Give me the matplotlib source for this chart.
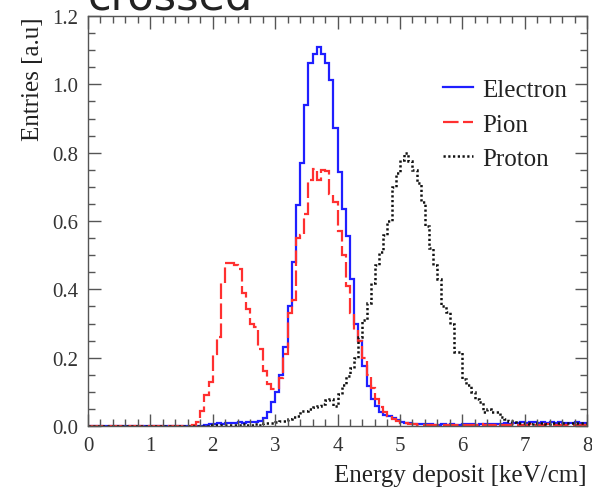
import matplotlib
matplotlib.use("Agg")
import matplotlib.pyplot as plt
from matplotlib.ticker import MultipleLocator
import numpy as np

plt.rcParams['font.family'] = ['Liberation Serif', 'DejaVu Serif']

# ---- data: 120 bins of width 8/120 on 0..8 keV/cm ----
x_min, x_max, n_bins = 0.0, 8.0, 120

electron = ([0.0] * 28 +
            [0.004, 0.006, 0.005, 0.008, 0.007, 0.008, 0.010, 0.009, 0.011, 0.010, 0.012, 0.012, 0.013] +
            [0.015, 0.022, 0.040, 0.070, 0.100, 0.150, 0.230, 0.350, 0.480, 0.648,
             0.770, 0.940, 1.062, 1.090, 1.108, 1.090, 1.062, 1.013, 0.872, 0.742,
             0.635, 0.557, 0.430, 0.300, 0.250, 0.176, 0.118, 0.079, 0.059, 0.040,
             0.033, 0.028, 0.022, 0.018, 0.013] +
            [0.010, 0.008, 0.007, 0.006, 0.006, 0.005, 0.005, 0.004, 0.004, 0.005,
             0.004, 0.005, 0.004, 0.004, 0.005, 0.006, 0.005, 0.004, 0.005, 0.006,
             0.005, 0.006, 0.007, 0.006, 0.008, 0.007, 0.009, 0.010, 0.012, 0.009,
             0.011, 0.013, 0.010, 0.012, 0.009, 0.011, 0.010, 0.012, 0.008, 0.010,
             0.009, 0.011, 0.008, 0.010])

pion = ([0.0] * 25 +
        [0.004, 0.012, 0.045, 0.090, 0.130, 0.210, 0.260, 0.420, 0.478, 0.478,
         0.470, 0.460, 0.390, 0.342, 0.300, 0.290, 0.225, 0.160, 0.123, 0.108,
         0.110, 0.140, 0.210, 0.330, 0.370, 0.550, 0.560, 0.620, 0.720, 0.752,
         0.720, 0.748, 0.745, 0.680, 0.655, 0.570, 0.500, 0.410, 0.330, 0.280,
         0.250, 0.200, 0.150, 0.110, 0.080, 0.055, 0.040, 0.030, 0.020, 0.015,
         0.010] +
        [0.008, 0.006, 0.005, 0.004, 0.004, 0.003, 0.004, 0.003, 0.003, 0.004,
         0.003, 0.004, 0.003, 0.003, 0.004, 0.003, 0.004, 0.003, 0.005, 0.004,
         0.003, 0.004, 0.005, 0.004, 0.003, 0.004, 0.005, 0.004, 0.003, 0.004,
         0.005, 0.004, 0.003, 0.004, 0.005, 0.004, 0.003, 0.004, 0.004, 0.003,
         0.004, 0.003, 0.004, 0.003])

proton = ([0.0] * 29 +
          [0.002, 0.003, 0.002, 0.004, 0.003, 0.002, 0.004, 0.003, 0.005, 0.004, 0.003, 0.005] +
          [0.004, 0.008, 0.010, 0.010, 0.012, 0.015, 0.015, 0.020, 0.025, 0.030,
           0.045, 0.045, 0.050, 0.055, 0.060, 0.065, 0.075, 0.080, 0.060, 0.095,
           0.120, 0.145, 0.170, 0.200, 0.260, 0.310, 0.360, 0.420, 0.470, 0.510,
           0.560, 0.600, 0.700, 0.740, 0.780, 0.800, 0.775, 0.750, 0.710, 0.655,
           0.586, 0.520, 0.470, 0.430, 0.350, 0.333, 0.300, 0.216, 0.216, 0.137,
           0.120, 0.099, 0.080, 0.069, 0.040, 0.050, 0.040, 0.040, 0.025, 0.020,
           0.015, 0.012, 0.010] +
          [0.008, 0.009, 0.007, 0.008, 0.010, 0.008, 0.007, 0.009, 0.008, 0.010,
           0.009, 0.008, 0.010, 0.008, 0.009, 0.008])

assert len(electron) == n_bins and len(pion) == n_bins and len(proton) == n_bins

labels = ["Electron", "Pion", "Proton"]
colors = ["#1f1fff", "#ff3030", "#111111"]
styles = ["-", (0, (7.0, 2.0)), (0, (0.9, 1.0))]
widths = [1.6, 1.6, 1.8]

edges = np.linspace(x_min, x_max, n_bins + 1)

W, H = 592, 489
fig = plt.figure(figsize=(W / 100, H / 100), dpi=100)
ax = fig.add_axes([88 / W, 62 / H, 499 / W, 410 / H])

for vals, lab, col, ls, lw in zip([electron, pion, proton], labels, colors, styles, widths):
    ax.stairs(vals, edges, color=col, linestyle=ls, linewidth=lw, label=lab,
              baseline=None)

ax.set_xlim(0, 8)
ax.set_ylim(0, 1.2)
ax.xaxis.set_major_locator(MultipleLocator(1))
ax.xaxis.set_minor_locator(MultipleLocator(0.2))
ax.yaxis.set_major_locator(MultipleLocator(0.2))
ax.yaxis.set_minor_locator(MultipleLocator(0.05))
ax.xaxis.set_major_formatter(matplotlib.ticker.FormatStrFormatter('%d'))
ax.yaxis.set_major_formatter(matplotlib.ticker.FormatStrFormatter('%.1f'))

tick_col = '#555555'
ax.tick_params(which='both', direction='in', top=True, right=True,
               color=tick_col, width=1.0, labelsize=15, labelcolor='#333333')
ax.tick_params(which='major', length=9, pad=7)
ax.tick_params(which='minor', length=5)
for s in ax.spines.values():
    s.set_color(tick_col)
    s.set_linewidth(1.0)

ax.set_xlabel("Energy deposit [keV/cm]", fontsize=18, loc='right', color='#222222', labelpad=7)
ax.set_ylabel("Entries [a.u]", fontsize=18, loc='top', color='#222222', labelpad=6)

leg = ax.legend(loc='upper left', bbox_to_anchor=(0.712, 0.847), frameon=False,
                fontsize=18, handlelength=1.2, handletextpad=0.35, labelspacing=0.48,
                borderpad=0.0, borderaxespad=0.0)
for t in leg.get_texts():
    t.set_color('#222222')

fig.text(88 / W, 1 - 9 / H, "crossed", family='DejaVu Sans', fontsize=31,
         color='#222222', va='baseline', ha='left')

fig.savefig("out.png", dpi=100)
